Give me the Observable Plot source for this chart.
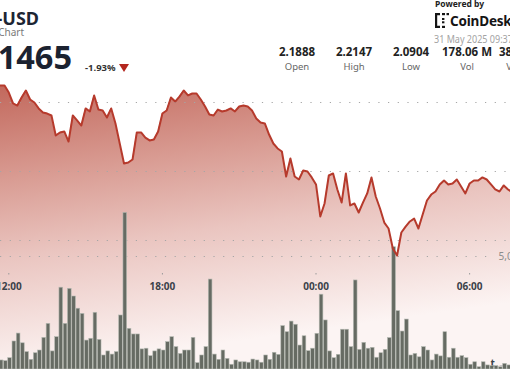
<!DOCTYPE html>
<html><head><meta charset="utf-8">
<script src="https://cdn.jsdelivr.net/npm/d3@7"></script>
<script src="https://cdn.jsdelivr.net/npm/@observablehq/plot@0.6"></script>
<style>
html,body{margin:0;padding:0;background:#fff;overflow:hidden;}
#wrap{position:relative;width:510px;height:369px;overflow:hidden;font-family:"Noto Sans",sans-serif;}
#wrap svg.layer{position:absolute;left:0;top:0;background:transparent;}
.h{position:absolute;white-space:nowrap;line-height:1;}
.sv{position:absolute;width:70px;text-align:center;white-space:nowrap;line-height:1;}
</style></head><body>
<div id="wrap">
  <div id="header"></div>
</div>
<script>
// ---- data (10-minute candles, minutes relative to 12:00 on 30 May 2025) ----
const startMinute = -20;
const stepMinutes = 10;
const prices = [
 2.2123,2.2123,2.2072,2.1993,2.1978,2.2036,2.2087,2.2022,2.2000,2.1957,
 2.1928,2.1920,2.1906,2.1761,2.1783,2.1790,2.1717,2.1906,2.1870,2.1833,
 2.1957,2.1935,2.2051,2.1949,2.1942,2.1891,2.1957,2.1848,2.1703,2.1558,
 2.1565,2.1587,2.1783,2.1783,2.1746,2.1725,2.1732,2.1790,2.1920,2.1942,
 2.2036,2.2007,2.2043,2.2087,2.2051,2.2065,2.2065,2.2022,2.1971,2.1913,
 2.1906,2.1949,2.1935,2.1942,2.1957,2.1935,2.1971,2.1978,2.1971,2.1942,
 2.1884,2.1855,2.1848,2.1768,2.1703,2.1667,2.1645,2.1464,2.1594,2.1464,
 2.1442,2.1507,2.1500,2.1457,2.1406,2.1174,2.1268,2.1471,2.1486,2.1370,
 2.1275,2.1486,2.1254,2.1268,2.1203,2.1275,2.1341,2.1457,2.1319,2.1232,
 2.1130,2.1087,2.0942,2.0891,2.1058,2.1101,2.1138,2.1159,2.1087,2.1188,
 2.1290,2.1333,2.1355,2.1406,2.1435,2.1406,2.1413,2.1442,2.1391,2.1341,
 2.1413,2.1435,2.1435,2.1457,2.1442,2.1406,2.1370,2.1355,2.1399,2.1370,
 2.1348];
// volume per candle, millions
const volumes = [
 0.40,0.37,0.50,1.24,1.59,1.16,0.77,0.43,0.72,0.84,
 1.40,2.02,0.80,1.43,3.62,2.02,3.57,3.23,2.69,2.46,
 1.28,1.36,2.51,1.31,0.62,0.80,0.66,0.77,2.39,6.93,
 1.80,1.55,1.55,0.89,0.92,0.59,0.80,0.89,0.84,1.21,
 1.43,0.99,0.69,0.84,0.84,1.40,0.28,0.62,0.99,3.98,
 0.66,0.43,0.84,0.47,0.21,0.40,0.32,0.32,0.30,0.44,
 0.40,0.30,0.62,0.43,0.74,0.65,1.92,1.65,2.12,1.98,
 1.06,1.47,0.81,0.92,1.58,3.31,2.17,0.80,0.50,0.65,
 1.76,1.76,0.99,3.94,0.87,1.18,0.92,0.96,0.52,0.72,
 0.87,1.39,5.41,2.58,1.68,2.21,0.62,0.69,0.54,0.99,
 0.84,0.40,0.66,0.58,1.65,0.52,0.92,0.52,0.59,0.50,
 0.21,0.32,0.10,0.32,0.18,0.15,0.15,0.10,0.25,0.18];
const tickMinutes = [0, 360, 720, 1080];
const tickLabels = ["12:00", "18:00", "00:00", "06:00"];
const priceGrid = [2.10, 2.15, 2.20];
const volumeGrid = [5];
const statValues = ["2.1888", "2.2147", "2.0904", "178.06 M", "383.94 M"];
const statLabels = ["Open", "High", "Low", "Vol", "Vol USD"];
const titleText = "XRP-USD";
const subtitleText = "XRP Price Chart";
const lastPrice = "2.1465";
const changeText = "-1.93%";
const dateText = "31 May 2025 09:37";

// ---- build tables ----
const priceData = prices.map((p, i) => ({t: startMinute + i * stepMinutes, p}));
const volData = volumes.map((v, i) => ({t: startMinute + i * stepMinutes, v}));

const W = 510, H = 369;
const xDomain = [-19.45, 1175.8];
const priceScale = {domain: [2.07609, 2.27391]};
const priceBase = 2.00652;
const font = "'Noto Sans', sans-serif";

function gradientDefs() {
  const ns = "http://www.w3.org/2000/svg";
  const defs = document.createElementNS(ns, "defs");
  const g = document.createElementNS(ns, "linearGradient");
  g.setAttribute("id", "areaGrad");
  g.setAttribute("gradientUnits", "userSpaceOnUse");
  g.setAttribute("x1", 0); g.setAttribute("y1", 85);
  g.setAttribute("x2", 40); g.setAttribute("y2", 369);
  [[0, "#c2685c"], [0.33, "#d99c93"], [0.6, "#eac5c0"], [1, "#fcf4f3"]].forEach(([o, c]) => {
    const s = document.createElementNS(ns, "stop");
    s.setAttribute("offset", o); s.setAttribute("stop-color", c);
    g.appendChild(s);
  });
  defs.appendChild(g);
  return defs;
}

const common = {
  width: W, height: H, marginLeft: 0, marginRight: 0, marginTop: 0,
  style: {fontFamily: font, background: "transparent", overflow: "hidden"},
  className: "layer"
};

const pricePlot = Plot.plot({
  ...common,
  marginBottom: 96,
  x: {domain: xDomain, axis: null},
  y: {...priceScale, axis: null},
  marks: [
    gradientDefs,
    Plot.areaY(priceData, {x: "t", y1: () => priceBase, y2: "p", fill: "url(#areaGrad)"}),
    Plot.ruleY(priceGrid, {y: d => d, stroke: "#a6a6a6", strokeWidth: 1.2, strokeDasharray: "1.2,8.5"}),
    Plot.axisX({ticks: tickMinutes, tickFormat: d => tickLabels[tickMinutes.indexOf(d)],
      tickSize: 1.5, tickPadding: 8, fontSize: 10, fontWeight: "bold",
      color: "#9a9a9a", fill: "#3b4149"})
  ]
});

const volPlot = Plot.plot({
  ...common,
  marginBottom: 0,
  x: {domain: xDomain, axis: null},
  y: {domain: [0, 16.327], axis: null},
  marks: [
    Plot.ruleY(volumeGrid, {y: d => d, stroke: "#a6a6a6", strokeWidth: 1.2, strokeDasharray: "1.2,8.5", insetRight: 16}),
    Plot.rectY(volData, {x1: d => d.t - 2, x2: d => d.t + stepMinutes - 2, y: "v",
      fill: "#666b63", stroke: "#b5b9b2", strokeWidth: 0.6, insetLeft: 0.3, insetRight: 0.3}),
    Plot.text(volumeGrid, {y: d => d, frameAnchor: "right", text: d => d3.format(",")(d * 1e6),
      textAnchor: "start", dx: -12, fill: "#8c8c8c", fontSize: 10})
  ]
});

const linePlot = Plot.plot({
  ...common,
  marginBottom: 96,
  x: {domain: xDomain, axis: null},
  y: {...priceScale, axis: null},
  marks: [
    Plot.line(priceData, {x: "t", y: "p", stroke: "#b63a2c", strokeWidth: 2, strokeLinejoin: "round"})
  ]
});

const wrap = document.getElementById("wrap");
wrap.insertBefore(linePlot, wrap.firstChild);
wrap.insertBefore(volPlot, wrap.firstChild);
wrap.insertBefore(pricePlot, wrap.firstChild);

// ---- header ----
const header = document.getElementById("header");
let html = "";
html += `<div class="h" style="right:471px;top:9px;font-size:18px;font-weight:700;color:#1d2533">${titleText}</div>`;
html += `<div class="h" style="right:486px;top:26.5px;font-size:10px;color:#7a7a7a">${subtitleText}</div>`;
html += `<div class="h" style="right:438px;top:41px;font-size:32.5px;font-weight:700;color:#1b2230">${lastPrice}</div>`;
html += `<div class="h" style="left:85px;top:62.7px;font-size:9.5px;font-weight:700;color:#333">${changeText}</div>`;
html += `<div style="position:absolute;left:119px;top:64px;width:0;height:0;border-left:5.5px solid transparent;border-right:5.5px solid transparent;border-top:8px solid #b3261e"></div>`;
const centers = [297, 354, 411, 467, 524];
statValues.forEach((v, i) => {
  html += `<div class="sv" style="left:${centers[i] - 35}px;top:46.3px;font-size:11.5px;font-weight:700;color:#222">${v}</div>`;
  html += `<div class="sv" style="left:${centers[i] - 35}px;top:61.8px;font-size:9.5px;color:#666">${statLabels[i]}</div>`;
});
html += `<div class="h" style="left:435px;top:-0.5px;font-size:8.5px;font-weight:700;color:#222">Powered by</div>`;
html += `<svg style="position:absolute;left:435px;top:13px" width="14" height="15" viewBox="0 0 14 15">
  <path d="M0 0H5V2.2H2.2V12.8H5V15H0Z" fill="#151515"/>
  <rect x="7" y="0" width="3" height="2.2" fill="#151515"/>
  <rect x="7" y="12.8" width="3" height="2.2" fill="#151515"/>
  <rect x="11.5" y="0" width="2.5" height="2.2" fill="#151515"/>
  <rect x="7" y="5" width="2.4" height="2" fill="#151515"/>
  <rect x="7" y="8.3" width="2.4" height="2" fill="#151515"/>
</svg>`;
html += `<div class="h" style="left:450px;top:12.6px;font-size:15px;font-weight:700;color:#151515;letter-spacing:-0.2px;transform:scaleX(0.9);transform-origin:0 0">CoinDesk</div>`;
html += `<div class="h" style="left:434px;top:32.6px;font-size:11px;color:#a3a3a3;transform:scaleX(0.82);transform-origin:0 0">${dateText}</div>`;
header.innerHTML = html;
</script>
</body></html>
